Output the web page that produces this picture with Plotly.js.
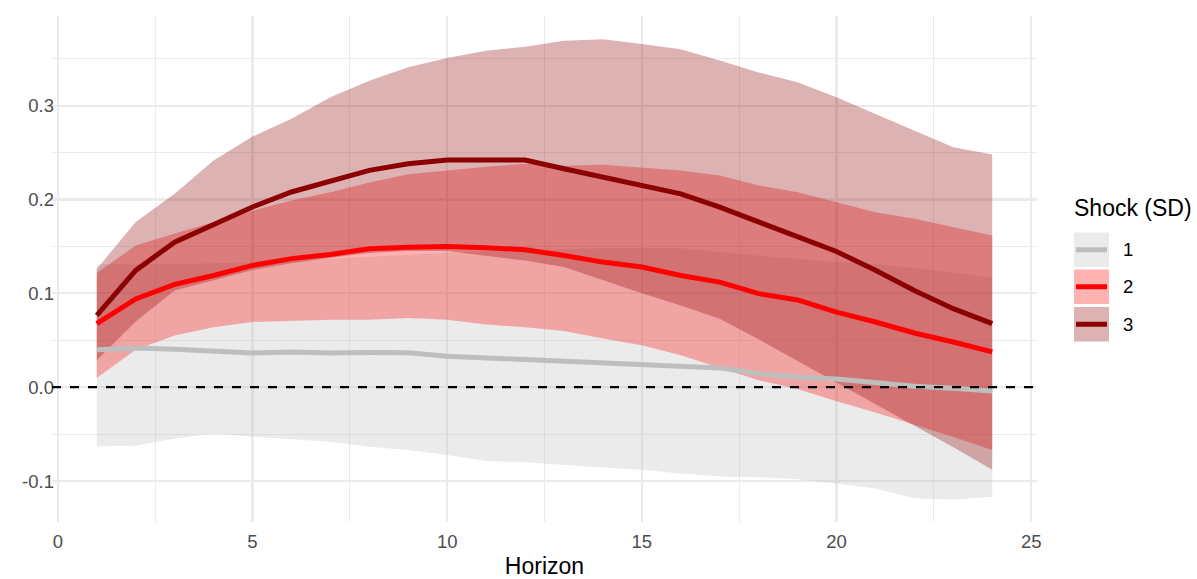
<!DOCTYPE html>
<html>
<head>
<meta charset="utf-8">
<script src="https://cdn.plot.ly/plotly-3.0.1.min.js"></script>
<style>html,body{margin:0;padding:0;background:#fff;}#chart{width:1197px;height:579px;}</style>
</head>
<body>
<div id="chart"></div>
<script>
// ---- Data ----
const horizon = [1,2,3,4,5,6,7,8,9,10,11,12,13,14,15,16,17,18,19,20,21,22,23,24];

const shock1 = [0.040,0.0418,0.0404,0.0387,0.0365,0.0376,0.0365,0.0369,0.0367,0.033,0.0312,0.0305,0.0277,0.027,0.0252,0.0227,0.0206,0.0147,0.011,0.0088,0.005,0.001,-0.001,-0.004];
const shock1Lower = [-0.0628,-0.0624,-0.0546,-0.0493,-0.0528,-0.0557,-0.058,-0.0635,-0.067,-0.0723,-0.0787,-0.080,-0.083,-0.0855,-0.088,-0.092,-0.095,-0.096,-0.098,-0.1025,-0.1078,-0.1184,-0.120,-0.1167];
const shock1Upper = [0.131,0.131,0.131,0.132,0.133,0.135,0.137,0.139,0.141,0.143,0.145,0.146,0.147,0.148,0.148,0.148,0.144,0.140,0.137,0.1335,0.131,0.127,0.122,0.117];

const shock2 = [0.0677,0.094,0.1096,0.119,0.1298,0.137,0.1415,0.1475,0.149,0.150,0.1486,0.1465,0.1404,0.1333,0.128,0.119,0.112,0.0997,0.093,0.080,0.0695,0.0578,0.0482,0.0376];
const shock2Lower = [0.0099,0.040,0.055,0.064,0.0695,0.071,0.072,0.072,0.0738,0.072,0.0667,0.064,0.060,0.0518,0.0447,0.034,0.021,0.0074,-0.002,-0.015,-0.027,-0.040,-0.053,-0.067];
const shock2Upper = [0.1216,0.151,0.1638,0.176,0.188,0.199,0.2078,0.218,0.227,0.231,0.235,0.238,0.236,0.237,0.2344,0.231,0.2255,0.215,0.2078,0.197,0.1865,0.1795,0.1705,0.1617];

const shock3 = [0.0766,0.1245,0.1546,0.174,0.192,0.208,0.220,0.231,0.238,0.242,0.242,0.242,0.2327,0.2237,0.2149,0.206,0.1918,0.176,0.159,0.1446,0.1245,0.103,0.0837,0.0677];
const shock3Lower = [0.0287,0.070,0.103,0.114,0.125,0.132,0.138,0.143,0.145,0.145,0.140,0.135,0.128,0.114,0.100,0.087,0.073,0.051,0.028,0.005,-0.018,-0.041,-0.064,-0.088];
const shock3Upper = [0.126,0.176,0.206,0.2415,0.267,0.286,0.309,0.3266,0.341,0.3507,0.3585,0.3628,0.369,0.3706,0.3656,0.360,0.348,0.3354,0.325,0.309,0.291,0.273,0.2556,0.248];

const shockLabels = ['1','2','3'];
const xTickVals = [0,5,10,15,20,25];
const yTickVals = [-0.1,0.0,0.1,0.2,0.3];
const yTickText = ['-0.1','0.0','0.1','0.2','0.3'];

// ---- Styles ----
const lineColors = ['#bebebe','#ff0000','#8b0000'];
const fillColors = ['rgba(190,190,190,0.3)','rgba(255,0,0,0.3)','rgba(139,0,0,0.3)'];
const FONT = '"Liberation Sans", Arial, Helvetica, sans-serif';

const W = 1197, H = 579;
const M = {l:52, r:160, t:16, b:57};
const px2x = px => (px - M.l) / (W - M.l - M.r);
const px2y = py => (H - M.b - py) / (H - M.t - M.b);

const series = [
  {mid: shock1, lo: shock1Lower, hi: shock1Upper},
  {mid: shock2, lo: shock2Lower, hi: shock2Upper},
  {mid: shock3, lo: shock3Lower, hi: shock3Upper}
];

const traces = [];
series.forEach((s, i) => {
  traces.push({
    type: 'scatter', mode: 'lines',
    x: horizon.concat(horizon.slice().reverse()),
    y: s.hi.concat(s.lo.slice().reverse()),
    fill: 'toself', fillcolor: fillColors[i],
    line: {width: 0, color: 'rgba(0,0,0,0)'},
    hoverinfo: 'skip', showlegend: false
  });
});
series.forEach((s, i) => {
  traces.push({
    type: 'scatter', mode: 'lines',
    x: horizon, y: s.mid,
    line: {color: lineColors[i], width: 5},
    name: shockLabels[i], showlegend: false
  });
});

const shapes = [
  {type: 'line', xref: 'paper', yref: 'y', x0: 0, x1: 1, y0: 0, y1: 0,
   line: {color: '#000000', width: 2.3, dash: '9px,9px'}, layer: 'above'}
];
const annotations = [
  {xref: 'paper', yref: 'paper', x: px2x(1072), y: px2y(207.5), xanchor: 'left', yanchor: 'middle',
   text: 'Shock (SD)', showarrow: false, font: {family: FONT, size: 23, color: '#000000'}}
];
const keyTops = [232.5, 269.5, 307];
const keyH = 34.5;
shockLabels.forEach((lab, i) => {
  const t = keyTops[i], b = t + keyH, c = t + keyH / 2;
  shapes.push({type: 'rect', xref: 'paper', yref: 'paper',
    x0: px2x(1074), x1: px2x(1109), y0: px2y(b), y1: px2y(t),
    fillcolor: fillColors[i], line: {width: 0}});
  shapes.push({type: 'line', xref: 'paper', yref: 'paper',
    x0: px2x(1076), x1: px2x(1107), y0: px2y(c), y1: px2y(c),
    line: {color: lineColors[i], width: 5}});
  annotations.push({xref: 'paper', yref: 'paper', x: px2x(1121), y: px2y(c), xanchor: 'left', yanchor: 'middle',
    text: lab, showarrow: false, font: {family: FONT, size: 18.5, color: '#000000'}});
});

const layout = {
  width: W, height: H, autosize: false,
  margin: M,
  paper_bgcolor: '#ffffff', plot_bgcolor: '#ffffff',
  font: {family: FONT},
  showlegend: false,
  xaxis: {
    range: [-0.15, 25.15], tickmode: 'array', tickvals: xTickVals,
    showgrid: true, gridcolor: '#ebebeb', gridwidth: 2.2,
    minor: {dtick: 2.5, tick0: 0, showgrid: true, gridcolor: '#ebebeb', gridwidth: 1.1},
    zeroline: false, showline: false, ticks: '',
    ticklabelstandoff: 6,
    tickfont: {family: FONT, size: 18.5, color: '#4d4d4d'},
    title: {text: 'Horizon', font: {family: FONT, size: 23, color: '#000000'}, standoff: 14}
  },
  yaxis: {
    range: [-0.1436, 0.3955], tickmode: 'array', tickvals: yTickVals, ticktext: yTickText,
    showgrid: true, gridcolor: '#ebebeb', gridwidth: 2.2,
    minor: {dtick: 0.05, tick0: 0, showgrid: true, gridcolor: '#ebebeb', gridwidth: 1.1},
    zeroline: false, showline: false, ticks: '',
    ticklabelstandoff: -3,
    tickfont: {family: FONT, size: 18.5, color: '#4d4d4d'}
  },
  shapes: shapes,
  annotations: annotations
};

Plotly.newPlot('chart', traces, layout, {displayModeBar: false, staticPlot: true});
</script>
</body>
</html>
